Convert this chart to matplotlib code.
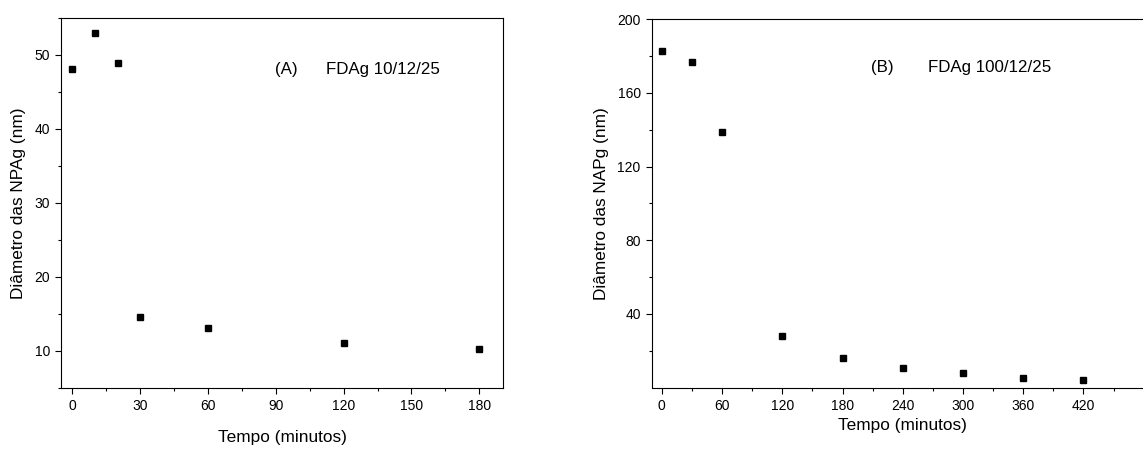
import matplotlib
matplotlib.use('Agg')
import matplotlib.pyplot as plt
from matplotlib.ticker import MultipleLocator

plt.rcParams['font.family'] = ['Liberation Sans', 'DejaVu Sans']

# (A) FDAg 10/12/25
tempo_a = [0, 10, 20, 30, 60, 120, 180]
diam_a = [48.1, 53.0, 48.9, 14.6, 13.1, 11.1, 10.3]

# (B) FDAg 100/12/25
tempo_b = [0, 30, 60, 120, 180, 240, 300, 360, 420]
diam_b = [182.5, 176.5, 139.0, 27.9, 16.2, 10.5, 7.8, 5.1, 4.0]

xticks_a = [0, 30, 60, 90, 120, 150, 180]
yticks_a = [10, 20, 30, 40, 50]
xticks_b = [0, 60, 120, 180, 240, 300, 360, 420]
yticks_b = [40, 80, 120, 160, 200]


def style(ax):
    for s in ax.spines.values():
        s.set_linewidth(0.8)
    ax.tick_params(which='both', direction='out', width=0.8, labelsize=10)
    ax.tick_params(which='major', length=4.5)
    ax.tick_params(which='minor', length=2.5)


fig = plt.figure(figsize=(11.43, 4.49), dpi=100)

ax1 = fig.add_axes([0.0534, 0.136, 0.3867, 0.824])
ax1.plot(tempo_a, diam_a, 's', color='black', markersize=3.8)
ax1.set_xlim(-5, 190.5)
ax1.set_ylim(5, 55)
ax1.set_xticks(xticks_a)
ax1.set_yticks(yticks_a)
ax1.xaxis.set_minor_locator(MultipleLocator(15))
ax1.yaxis.set_minor_locator(MultipleLocator(5))
ax1.set_xlabel('Tempo (minutos)', fontsize=12.4, labelpad=12)
ax1.set_ylabel('Diâmetro das NPAg (nm)', fontsize=12.4, labelpad=6)
ax1.text(89.5, 48, '(A)', fontsize=12.2, va='center')
ax1.text(112.4, 48, 'FDAg 10/12/25', fontsize=12.2, va='center')
style(ax1)

ax2 = fig.add_axes([0.5702, 0.1365, 0.4392, 0.821])
ax2.plot(tempo_b, diam_b, 's', color='black', markersize=3.8)
ax2.set_xlim(-10, 490)
ax2.set_ylim(0, 200)
ax2.set_xticks(xticks_b)
ax2.set_yticks(yticks_b)
ax2.set_xticks([30, 90, 150, 210, 270, 330, 390, 450], minor=True)
ax2.set_yticks([20, 60, 100, 140, 180], minor=True)
ax2.set_xlabel('Tempo (minutos)', fontsize=12.4, labelpad=4)
ax2.set_ylabel('Diâmetro das NAPg (nm)', fontsize=12.4, labelpad=6)
ax2.text(208.5, 174, '(B)', fontsize=12.2, va='center')
ax2.text(265, 174, 'FDAg 100/12/25', fontsize=12.2, va='center')
style(ax2)

fig.savefig('out.png', dpi=100)
